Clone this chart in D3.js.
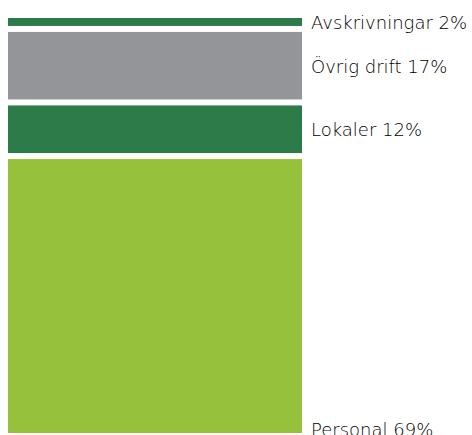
<!DOCTYPE html>
<html>
<head>
<meta charset="utf-8">
<script src="https://cdn.jsdelivr.net/npm/d3@7"></script>
<style>
  body { margin: 0; background: #fff; }
  text { font-family: "Century Gothic", "DejaVu Sans", sans-serif; font-weight: 300; fill: #000; }
</style>
</head>
<body>
<svg id="drawing_region"></svg>
<script>
// bottom to top
const categories = ["Personal", "Lokaler", "Övrig drift", "Avskrivningar"];
const shares = [69, 12, 17, 2];
const colors = ["#95c13d", "#2d7b48", "#939598", "#2d7b48"];

const width = 472, height = 435;
const barLeft = 8, barRight = 302;
const bottom = 433, gap = 6;

const svg = d3.select("#drawing_region")
    .attr("width", width)
    .attr("height", height);

const data = categories.map((c, i) => ({ label: c, value: shares[i], color: colors[i], i: i }));
let acc = 0;
data.forEach(d => { d.start = acc; acc += d.value; });

const yScale = d3.scaleLinear()
    .domain([0, 100])
    .range([0, bottom - 18 - gap * (data.length - 1)]);

const y0 = d => bottom - yScale(d.start) - gap * d.i;
const y1 = d => y0(d) - yScale(d.value);

svg.selectAll("rect")
    .data(data)
    .enter()
    .append("rect")
    .attr("x", barLeft)
    .attr("width", barRight - barLeft)
    .attr("y", d => y1(d))
    .attr("height", d => yScale(d.value))
    .attr("fill", d => d.color);

svg.selectAll(".label")
    .data(data)
    .enter()
    .append("text")
    .attr("class", "label")
    .attr("x", 311)
    .attr("y", d => d.i === 0 ? y0(d) + 3 : (y0(d) + y1(d)) / 2 + 7)
    .style("font-size", "18px")
    .text(d => `${d.label} ${d.value}%`);
</script>
</body>
</html>
